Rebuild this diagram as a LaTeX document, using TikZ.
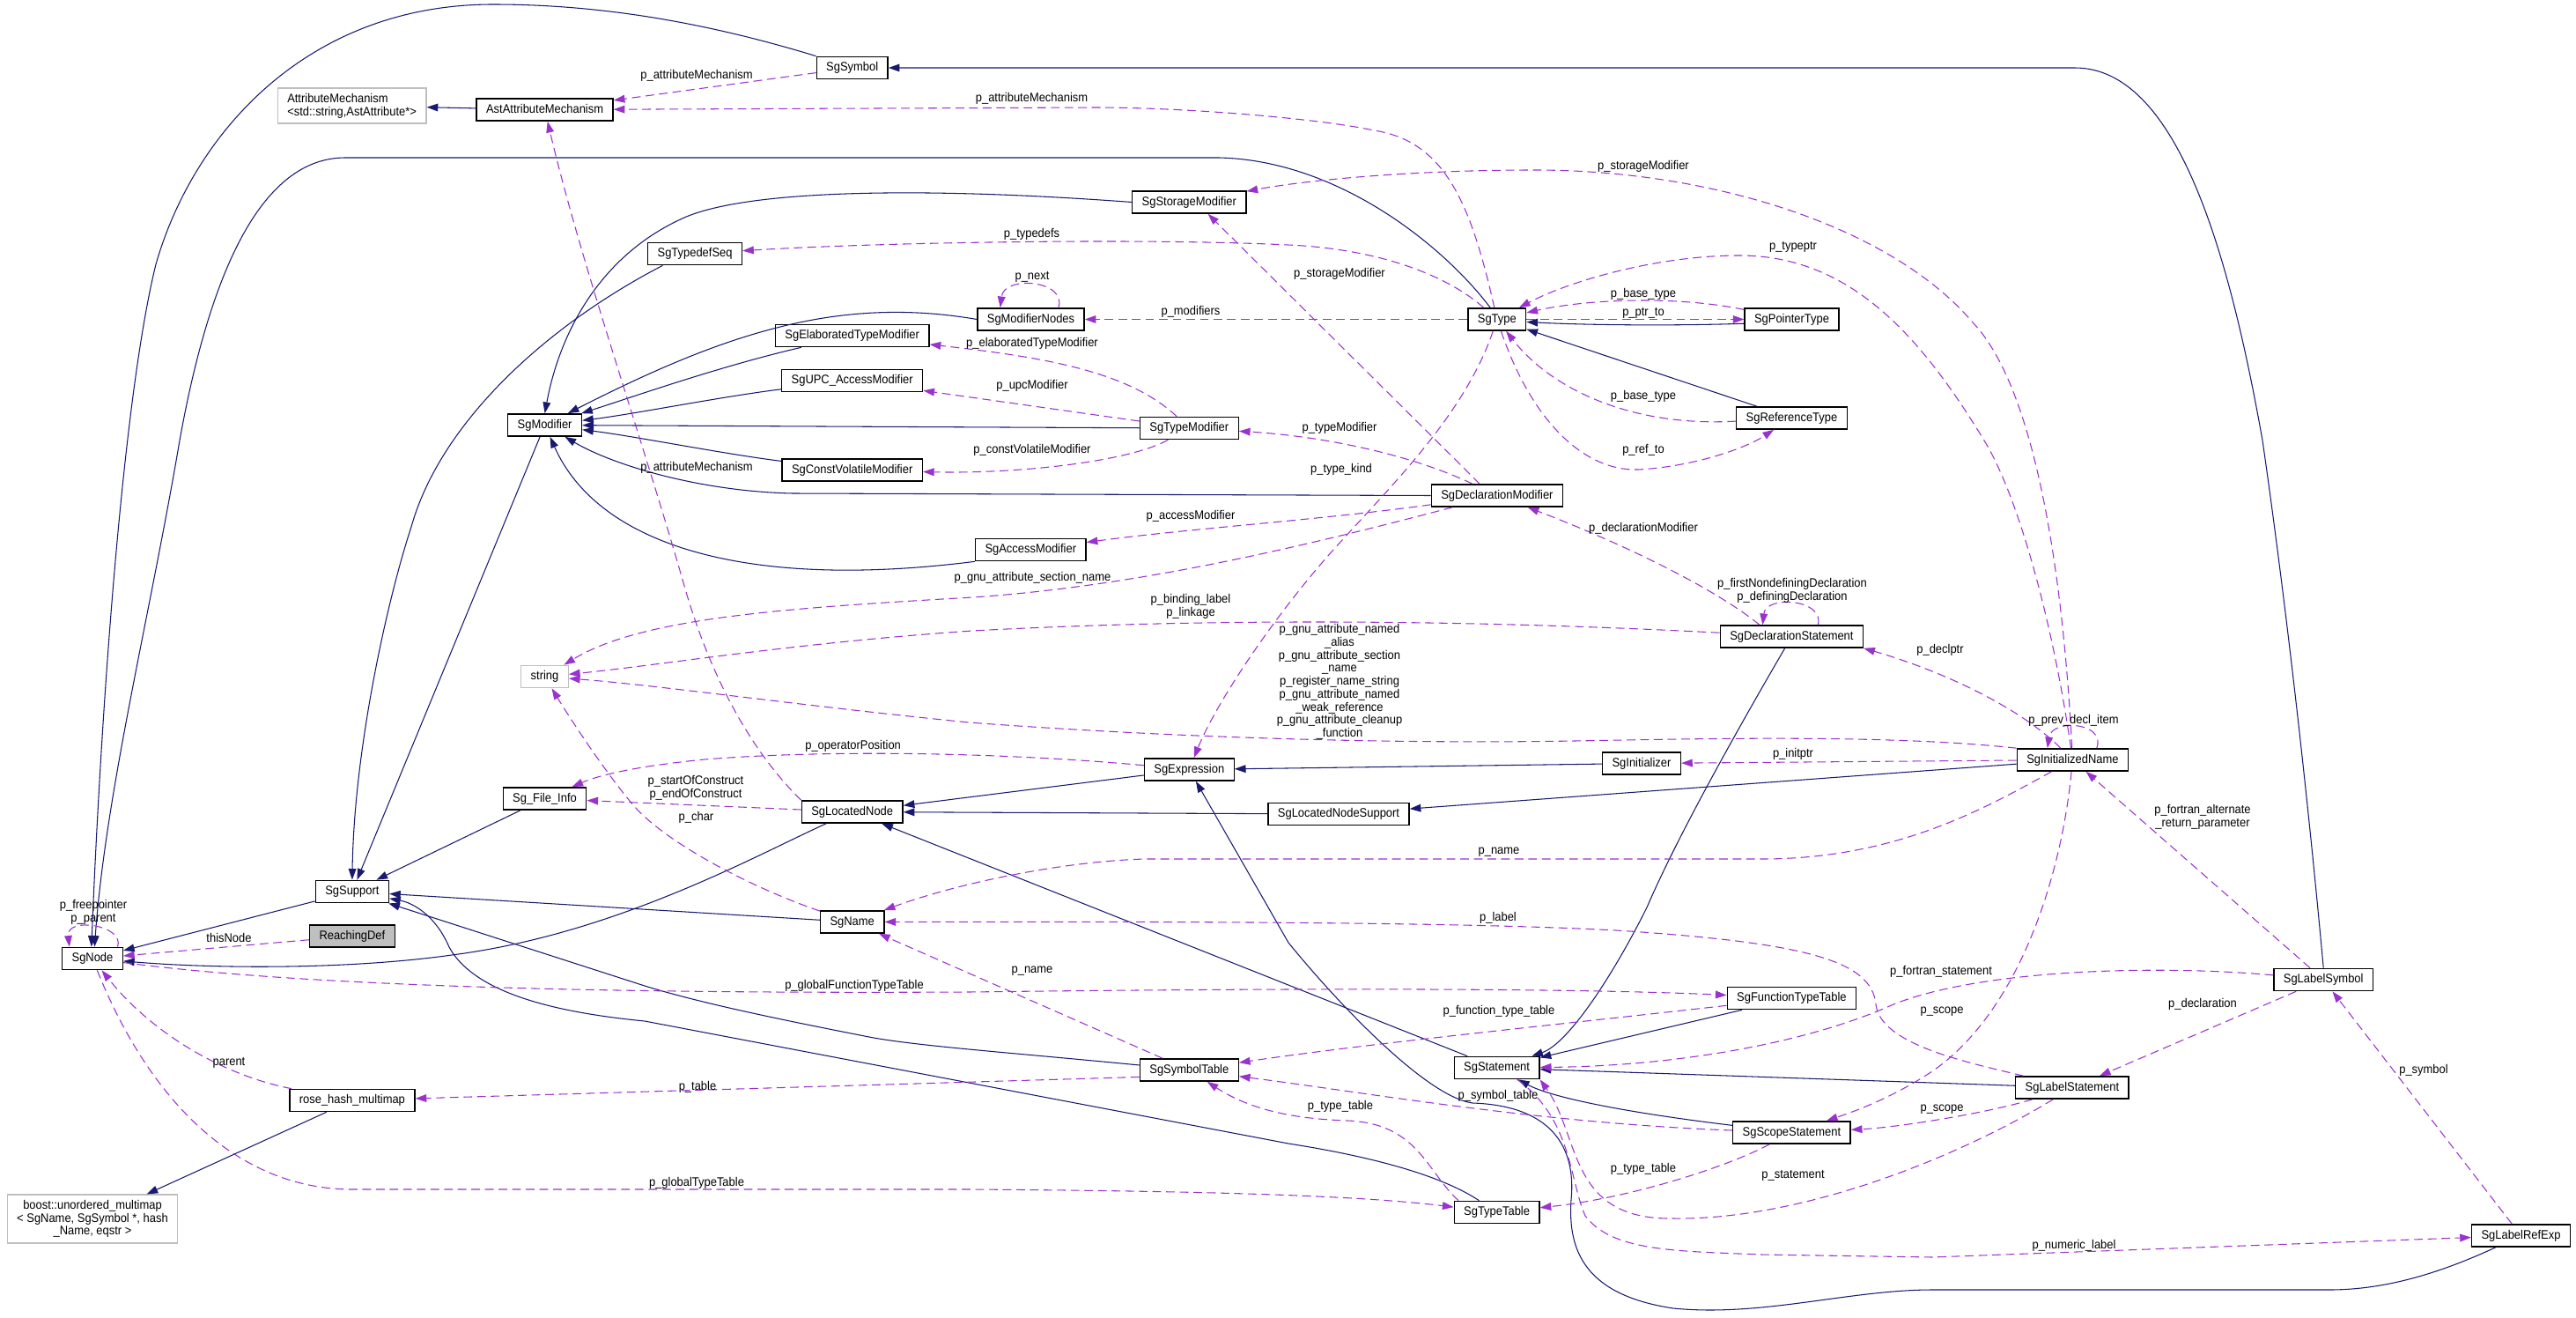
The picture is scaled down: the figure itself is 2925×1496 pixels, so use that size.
\documentclass[tikz,border=0pt]{standalone}
\usepackage{fontspec}
\setmainfont{Liberation Sans}[FakeStretch=0.92]
\usetikzlibrary{arrows.meta}
\definecolor{inhcol}{HTML}{191970}
\definecolor{usecol}{HTML}{9A32CD}
\definecolor{grayb}{HTML}{BFBFBF}
\tikzset{
  box/.style={draw=black, line width=0.95pt, fill=white, inner xsep=7.8pt, inner ysep=2pt},
  cls/.style={box, minimum height=18pt, text height=7.2pt, text depth=2pt},
  ext/.style={box, draw=grayb},
  lbl/.style={inner sep=0pt, align=center},
  inh/.style={draw=inhcol, line width=0.75pt, -{Triangle[length=9pt,width=6.2pt]}},
  use/.style={draw=usecol, line width=0.75pt, dash pattern=on 7pt off 4pt, -{Triangle[length=9pt,width=6.2pt]}}
}
\begin{document}
\begin{tikzpicture}[x=0.025cm, y=-0.025cm, font=\fontsize{10pt}{10.5pt}\selectfont]
\fill[white] (0,0) rectangle (2925,1496);
\useasboundingbox (0,0) rectangle (2925,1496);

% ---------------- nodes ----------------
\node[ext, align=left, minimum height=28.5pt] (attrmech) at (399.6,120) {AttributeMechanism\\<std::string,AstAttribute*>};
\node[cls] (astattr) at (618.6,124.5) {AstAttributeMechanism};
\node[cls] (symbol) at (967.7,77) {SgSymbol};
\node[cls] (storagemod) at (1350.3,229.5) {SgStorageModifier};
\node[cls] (typedefseq) at (789.1,288) {SgTypedefSeq};
\node[cls] (modnodes) at (1170.5,362.5) {SgModifierNodes};
\node[cls] (elabmod) at (967.7,381) {SgElaboratedTypeModifier};
\node[cls] (upcmod) at (967.7,432) {SgUPC\_AccessModifier};
\node[cls] (typemod) at (1350.3,486) {SgTypeModifier};
\node[cls] (modifier) at (618.6,482.5) {SgModifier};
\node[cls] (sgtype) at (1699.8,362.5) {SgType};
\node[cls] (ptrtype) at (2034.5,362.5) {SgPointerType};
\node[cls] (reftype) at (2034.5,474.5) {SgReferenceType};
\node[cls] (cvmod) at (967.7,533.5) {SgConstVolatileModifier};
\node[cls] (declmod) at (1699.9,562.5) {SgDeclarationModifier};
\node[cls] (accessmod) at (1170.3,624) {SgAccessModifier};
\node[ext, minimum height=18pt, text height=7.2pt, text depth=2pt] (string) at (618.5,768) {string};
\node[cls] (declstmt) at (2034.4,722.5) {SgDeclarationStatement};
\node[cls] (initializer) at (1864,866.5) {SgInitializer};
\node[cls] (initname) at (2353.4,862.5) {SgInitializedName};
\node[cls] (expression) at (1350.3,873.5) {SgExpression};
\node[cls] (fileinfo) at (618.5,906.5) {Sg\_File\_Info};
\node[cls] (locnode) at (967.7,921.5) {SgLocatedNode};
\node[cls] (locnodesup) at (1520,924) {SgLocatedNodeSupport};
\node[cls] (support) at (399.9,1012) {SgSupport};
\node[cls] (sgnode) at (105,1088) {SgNode};
\node[cls, fill=grayb] (reaching) at (399.9,1062.5) {ReachingDef};
\node[cls] (sgname) at (967.7,1046.5) {SgName};
\node[cls] (functypetable) at (2034.4,1133) {SgFunctionTypeTable};
\node[cls] (labelsym) at (2638.2,1112) {SgLabelSymbol};
\node[cls] (stmt) at (1699.6,1212) {SgStatement};
\node[cls] (symtable) at (1350.3,1214.5) {SgSymbolTable};
\node[cls] (labelstmt) at (2352.9,1234.5) {SgLabelStatement};
\node[cls] (rosehash) at (399.9,1249) {rose\_hash\_multimap};
\node[cls] (scopestmt) at (2034.4,1285.5) {SgScopeStatement};
\node[cls] (typetable) at (1699.6,1376) {SgTypeTable};
\node[ext, align=center, minimum height=39pt] (boost) at (105,1383.5) {boost::unordered\_multimap\\< SgName, SgSymbol *, hash\\\_Name, eqstr >};
\node[cls] (labelref) at (2862.5,1402.5) {SgLabelRefExp};

% ---------------- inheritance (solid) ----------------
\draw[inh] (astattr) -- (attrmech);
\draw[inh] (symbol.north west) .. controls (800,25) and (680,5) .. (560,5) .. controls (350,5) and (220,150) .. (177,300) .. controls (140,450) and (115,800) .. (sgnode.95);
\draw[inh] (sgtype.120) .. controls (1640,280) and (1520,182) .. (1384,179) -- (392,179) .. controls (300,179) and (240,300) .. (204,500) .. controls (170,700) and (120,900) .. (sgnode.80);
\draw[inh] (labelsym.north) .. controls (2620,900) and (2595,680) .. (2569,500) .. controls (2530,280) and (2470,77) .. (2356,77) -- (symbol.east);
\draw[inh] (modifier) -- (support);
\draw[inh] (typedefseq.200) .. controls (620,370) and (500,480) .. (467,598) .. controls (440,680) and (402,850) .. (support.north);
\draw[inh] (fileinfo) -- (support);
\draw[inh] (storagemod.west) .. controls (1050,212) and (850,215) .. (777,247) .. controls (680,290) and (635,380) .. (modifier.north);
\draw[inh] (modnodes.west) .. controls (950,335) and (820,380) .. (modifier);
\draw[inh] (elabmod) .. controls (820,415) and (720,450) .. (modifier);
\draw[inh] (upcmod) .. controls (820,450) and (720,470) .. (modifier);
\draw[inh] (typemod) -- (modifier);
\draw[inh] (cvmod) .. controls (820,515) and (720,495) .. (modifier);
\draw[inh] (declmod.west) -- (900,560) .. controls (800,558) and (700,530) .. (modifier);
\draw[inh] (accessmod.south west) .. controls (850,670) and (680,620) .. (modifier);
\draw[inh] (locnode) .. controls (860,970) and (700,1060) .. (513,1084) .. controls (400,1100) and (250,1100) .. (sgnode);
\draw[inh] (support) -- (sgnode);
\draw[inh] (expression) -- (locnode);
\draw[inh] (locnodesup) -- (locnode);
\draw[inh] (stmt) -- (locnode);
\draw[inh] (initializer) -- (expression);
\draw[inh] (initname) -- (locnodesup);
\draw[inh] (declstmt) .. controls (1960,850) and (1900,960) .. (1870,1030) .. controls (1830,1110) and (1780,1185) .. (stmt);
\draw[inh] (functypetable) -- (stmt);
\draw[inh] (labelstmt) -- (stmt);
\draw[inh] (scopestmt) .. controls (1840,1262) and (1760,1245) .. (stmt);
\draw[inh] (symtable) .. controls (1150,1195) and (1050,1188) .. (992,1178) .. controls (900,1160) and (800,1140) .. (732,1119) -- (support);
\draw[inh] (typetable) .. controls (1630,1330) and (1540,1310) .. (1463,1298) -- (732,1159) .. controls (640,1150) and (540,1130) .. (510,1075) .. controls (495,1040) and (470,1025) .. (support);
\draw[inh] (sgname) -- (support);
\draw[inh] (labelref) .. controls (2760,1450) and (2700,1464) .. (2645,1464) -- (2194,1464) .. controls (2100,1464) and (2000,1495) .. (1900,1485) .. controls (1800,1470) and (1780,1420) .. (1784,1362) .. controls (1790,1300) and (1760,1255) .. (1672,1252) .. controls (1620,1245) and (1520,1140) .. (1463,1070) -- (expression);
\draw[inh] (ptrtype.185) .. controls (1900,370) and (1800,369) .. (sgtype.-5);
\draw[inh] (reftype) -- (sgtype);
\draw[inh] (rosehash) -- (boost);

% ---------------- usage (dashed) ----------------
\draw[use] (symbol) -- (astattr);
\node[lbl] (l1) at (791,86) {p\_attributeMechanism};
\draw[use] (sgtype) .. controls (1670,230) and (1640,160) .. (1560,148) .. controls (1500,135) and (1350,122) .. (1244,122) -- (astattr);
\node[lbl] (l2) at (1171.5,112) {p\_attributeMechanism};
\draw[use] (locnode.north west) .. controls (860,860) and (810,780) .. (777,665) .. controls (730,500) and (660,300) .. (astattr);
\node[lbl] (l3) at (791,531) {p\_attributeMechanism};
\draw[use] (initname) .. controls (2345,700) and (2320,450) .. (2240,366) .. controls (2150,260) and (1950,193) .. (1742,193) .. controls (1600,193) and (1480,205) .. (storagemod);
\node[lbl] (l4) at (1866,189) {p\_storageModifier};
\draw[use] (sgtype) .. controls (1640,310) and (1560,282) .. (1462,278) .. controls (1300,270) and (1000,275) .. (typedefseq);
\node[lbl] (l5) at (1171.5,266) {p\_typedefs};
\draw[use] (modnodes.23) .. controls (1212,318) and (1140,312) .. (modnodes.159);
\node[lbl] (l6) at (1172,314) {p\_next};
\draw[use] (sgtype) -- (modnodes);
\node[lbl] (l7) at (1352,354) {p\_modifiers};
\draw[use] (typemod) .. controls (1280,420) and (1180,405) .. (elabmod);
\node[lbl] (l8) at (1172,390) {p\_elaboratedTypeModifier};
\draw[use] (typemod) -- (upcmod);
\node[lbl] (l9) at (1172,438) {p\_upcModifier};
\draw[use] (typemod) .. controls (1280,525) and (1150,538) .. (cvmod);
\node[lbl] (l10) at (1172,511) {p\_constVolatileModifier};
\draw[use] (declmod) .. controls (1600,515) and (1500,495) .. (typemod);
\node[lbl] (l11) at (1521,486) {p\_typeModifier};
\draw[use] (declmod.146) -- (storagemod.-32);
\node[lbl] (l12) at (1521,311) {p\_storageModifier};
\draw[use] (declmod) .. controls (1500,590) and (1350,600) .. (accessmod);
\node[lbl] (l13) at (1352,586) {p\_accessModifier};
\draw[use] (declmod) .. controls (1500,615) and (1300,665) .. (1104,678) .. controls (900,690) and (730,700) .. (string);
\node[lbl] (l14) at (1172.5,656) {p\_gnu\_attribute\_section\_name};
\draw[use] (sgtype) .. controls (1660,480) and (1560,570) .. (1500,640) .. controls (1440,710) and (1380,800) .. (expression);
\node[lbl] (l15) at (1523,533) {p\_type\_kind};
\draw[use] (initname) .. controls (2330,700) and (2290,560) .. (2253,500) .. controls (2180,380) and (2100,290) .. (1975,290) .. controls (1880,290) and (1780,320) .. (sgtype);
\node[lbl] (l16) at (2036,280) {p\_typeptr};
\draw[use] (ptrtype) .. controls (1900,335) and (1800,340) .. (sgtype);
\node[lbl] (l17) at (1866,334) {p\_base\_type};
\draw[use] (sgtype.east) -- (ptrtype.west);
\node[lbl] (l18) at (1866,355) {p\_ptr\_to};
\draw[use] (reftype) .. controls (1850,485) and (1760,440) .. (sgtype);
\node[lbl] (l19) at (1866,450) {p\_base\_type};
\draw[use] (sgtype) .. controls (1740,480) and (1800,535) .. (1860,533) .. controls (1920,530) and (1980,510) .. (reftype);
\node[lbl] (l20) at (1866,511) {p\_ref\_to};
\draw[use] (declstmt.160) .. controls (1950,670) and (1850,620) .. (declmod);
\node[lbl] (l21) at (1866,600) {p\_declarationModifier};
\draw[use] (declstmt.24) .. controls (2072,680) and (2005,675) .. (declstmt.158);
\node[lbl] (l22) at (2035,670.5) {p\_firstNondefiningDeclaration\\p\_definingDeclaration};
\draw[use] (declstmt) .. controls (1700,705) and (1400,700) .. (1104,716) .. controls (900,730) and (750,755) .. (string);
\node[lbl] (l23) at (1352,688.5) {p\_binding\_label\\p\_linkage};
\draw[use] (initname.north west) .. controls (2150,834) and (1950,838) .. (1788,841) .. controls (1550,845) and (1300,835) .. (1100,820) .. controls (900,800) and (750,778) .. (string);
\node[lbl] (l24) at (1521,774) {p\_gnu\_attribute\_named\\\_alias\\p\_gnu\_attribute\_section\\\_name\\p\_register\_name\_string\\p\_gnu\_attribute\_named\\\_weak\_reference\\p\_gnu\_attribute\_cleanup\\\_function};
\draw[use] (initname) .. controls (2290,800) and (2200,760) .. (declstmt.south east);
\node[lbl] (l25) at (2203,738) {p\_declptr};
\draw[use] (initname.26) .. controls (2392,820) and (2330,815) .. (initname.155);
\node[lbl] (l26) at (2354.5,818) {p\_prev\_decl\_item};
\draw[use] (initname) -- (initializer);
\node[lbl] (l27) at (2036,856) {p\_initptr};
\draw[use] (initname) .. controls (2250,920) and (2150,975) .. (2000,975) -- (1300,975) .. controls (1200,978) and (1080,1005) .. (sgname);
\node[lbl] (l28) at (1702,967) {p\_name};
\draw[use] (labelstmt) .. controls (2230,1205) and (2135,1185) .. (2130,1140) .. controls (2125,1090) and (2050,1070) .. (1835,1056) .. controls (1650,1046) and (1300,1046) .. (sgname);
\node[lbl] (l29) at (1701,1042) {p\_label};
\draw[use] (sgnode) .. controls (350,1120) and (700,1128) .. (1100,1126) .. controls (1500,1121) and (1800,1122) .. (functypetable);
\node[lbl] (l30) at (970,1119) {p\_globalFunctionTypeTable};
\draw[use] (functypetable) .. controls (1750,1165) and (1550,1185) .. (symtable);
\node[lbl] (l31) at (1702,1148) {p\_function\_type\_table};
\draw[use] (scopestmt) .. controls (1750,1275) and (1550,1240) .. (symtable);
\node[lbl] (l32) at (1701,1244) {p\_symbol\_table};
\draw[use] (symtable) -- (sgname);
\node[lbl] (l33) at (1172,1102) {p\_name};
\draw[use] (symtable.188) -- (rosehash);
\node[lbl] (l34) at (792,1234) {p\_table};
\draw[use] (rosehash) .. controls (250,1220) and (170,1170) .. (sgnode);
\node[lbl] (l35) at (260,1206) {parent};
\draw[use] (sgnode) .. controls (170,1250) and (270,1350) .. (400,1350) -- (1100,1350) .. controls (1400,1352) and (1550,1358) .. (typetable);
\node[lbl] (l36) at (791,1343) {p\_globalTypeTable};
\draw[use] (sgnode.25) .. controls (142,1050) and (75,1040) .. (sgnode.153);
\node[lbl] (l37) at (106,1035.5) {p\_freepointer\\p\_parent};
\draw[use] (reaching) -- (sgnode);
\node[lbl] (l38) at (260,1064) {thisNode};
\draw[use] (expression) .. controls (1150,855) and (950,850) .. (800,862) .. controls (720,870) and (680,880) .. (fileinfo);
\node[lbl] (l39) at (968.6,847) {p\_operatorPosition};
\draw[use] (locnode) -- (fileinfo);
\node[lbl] (l40) at (790,894.7) {p\_startOfConstruct\\p\_endOfConstruct};
\draw[use] (sgname) .. controls (860,1010) and (760,960) .. (720,915) .. controls (690,880) and (650,820) .. (string);
\node[lbl] (l41) at (790.5,928) {p\_char};
\draw[use] (labelsym) .. controls (2450,1095) and (2250,1100) .. (2150,1140) .. controls (2050,1185) and (1900,1210) .. (stmt);
\node[lbl] (l42) at (2204,1103) {p\_fortran\_statement};
\draw[use] (initname) .. controls (2340,1000) and (2290,1150) .. (2194,1216) .. controls (2150,1245) and (2110,1260) .. (scopestmt);
\node[lbl] (l43) at (2205,1148) {p\_scope};
\draw[use] (labelstmt) .. controls (2250,1265) and (2150,1280) .. (scopestmt);
\node[lbl] (l44) at (2205,1259) {p\_scope};
\draw[use] (scopestmt) .. controls (1960,1325) and (1850,1360) .. (typetable);
\node[lbl] (l45) at (1866,1327) {p\_type\_table};
\draw[use] (typetable.163) .. controls (1620,1330) and (1610,1275) .. (1530,1272) .. controls (1470,1270) and (1420,1260) .. (symtable);
\node[lbl] (l46) at (1522,1256) {p\_type\_table};
\draw[use] (labelstmt) .. controls (2230,1310) and (2050,1385) .. (1900,1383) .. controls (1780,1385) and (1795,1290) .. (stmt.south east);
\node[lbl] (l47) at (2036,1334) {p\_statement};
\draw[use] (stmt.-30) .. controls (1785,1270) and (1782,1340) .. (1800,1380) .. controls (1830,1420) and (1900,1420) .. (2000,1424) -- (2194,1427) -- (labelref);
\node[lbl] (l48) at (2355,1414) {p\_numeric\_label};
\draw[use] (labelsym) -- (labelstmt);
\node[lbl] (l49) at (2501,1140) {p\_declaration};
\draw[use] (labelsym) -- (initname);
\node[lbl] (l50) at (2501,927) {p\_fortran\_alternate\\\_return\_parameter};
\draw[use] (labelref) -- (labelsym);
\node[lbl] (l51) at (2752,1215) {p\_symbol};
\end{tikzpicture}
\end{document}
